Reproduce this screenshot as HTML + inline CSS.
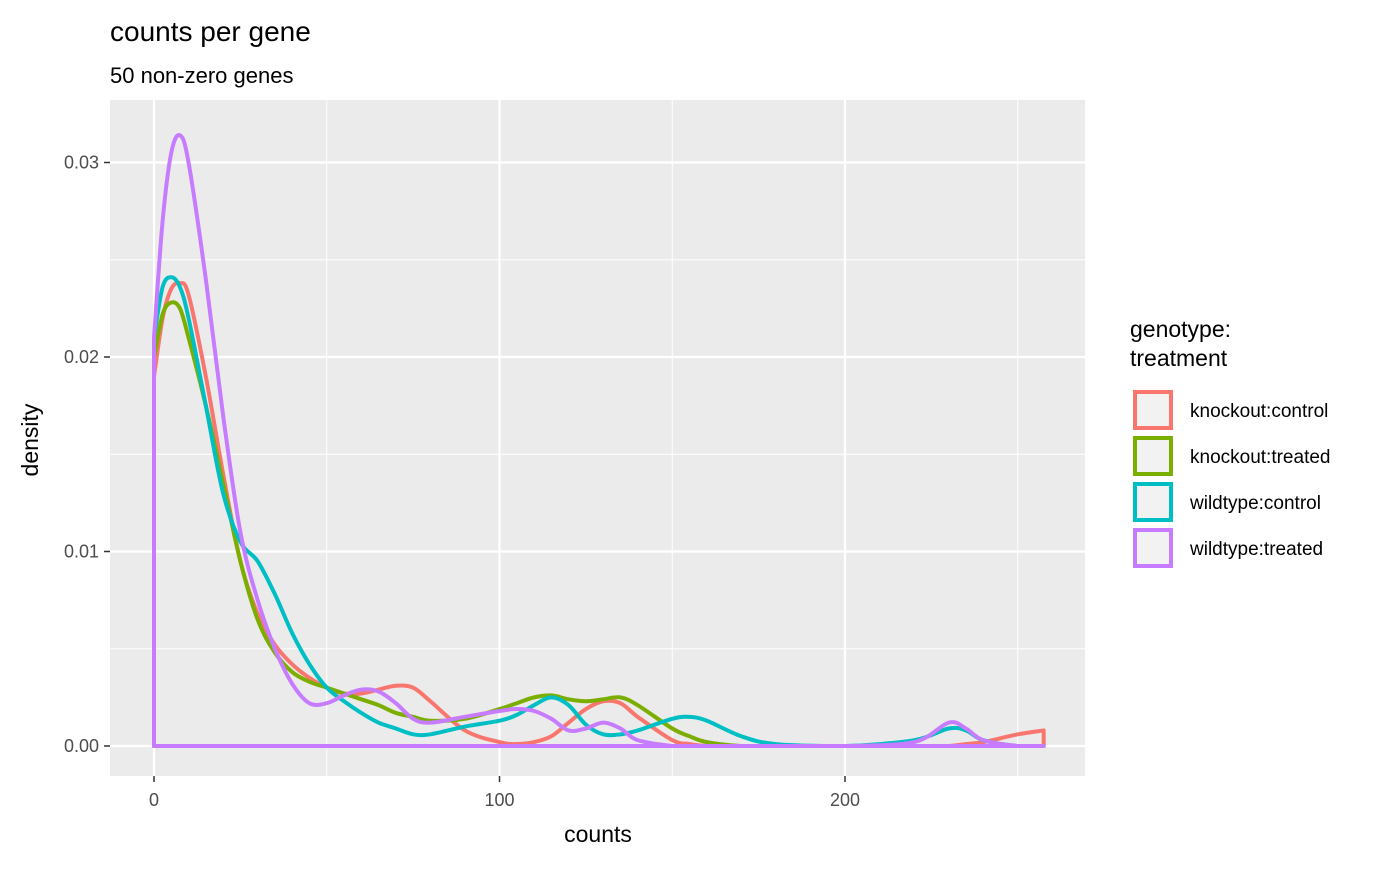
<!DOCTYPE html>
<html><head><meta charset="utf-8"><style>
body{margin:0;background:#fff;font-family:"Liberation Sans",sans-serif}
</style></head><body>
<svg id="chart" width="1400" height="866" xmlns="http://www.w3.org/2000/svg" font-family="Liberation Sans, sans-serif">
<text x="110" y="41" font-size="28" fill="#000">counts per gene</text>
<text x="110" y="83" font-size="22" fill="#000">50 non-zero genes</text>
<rect x="110" y="100" width="975" height="676" fill="#ebebeb"/>
<g id="grid"></g>
<g id="series"></g>
<g id="axes"></g>
<text x="598" y="842" font-size="23" text-anchor="middle">counts</text>
<text transform="translate(38,440) rotate(-90)" font-size="23" text-anchor="middle">density</text>
<g>
<text x="1130" y="337" font-size="23">genotype:</text>
<text x="1130" y="366" font-size="23">treatment</text>
<g id="legend"></g>
</g>
</svg>
<script>
const xGrid=[0,2.5,5,7.5,10,15,20,25,30,35,40,45,50,55,60,65,70,75,80,90,100,105,110,115,120,125,130,135,140,150,155,160,170,180,200,220,230,235,240,250,257.5];
const seriesNames=["knockout:control","knockout:treated","wildtype:control","wildtype:treated"];
const kcVals=[.019,.022,.0235,.0238,.0232,.019,.014,.0095,.0068,.0052,.0042,.0035,.003,.0027,.0027,.0029,.0031,.003,.0023,.0008,.0002,.0001,.0002,.0005,.0012,.0019,.0023,.0022,.0015,.0003,.0001,0,0,0,0,0,0,.0001,.0002,.0006,.0008];
const ktVals=[.02,.0222,.0228,.0225,.021,.0175,.0135,.0095,.0065,.0048,.0038,.0033,.003,.0027,.0024,.0021,.0017,.0015,.0013,.0014,.0019,.0022,.0025,.0026,.0024,.0023,.0024,.0025,.0021,.0009,.0005,.0002,0,0,0,0,0,0,0,0,0];
const wcVals=[.021,.0236,.0241,.0236,.022,.0175,.013,.0105,.0095,.0078,.0058,.0042,.003,.0023,.0017,.0012,.0009,.0006,.0006,.001,.0013,.0016,.0021,.0025,.0021,.0011,.0006,.0006,.0008,.0014,.0015,.0013,.0005,.0001,0,.0003,.0009,.0008,.0003,0,0];
const wtVals=[.021,.027,.0305,.0314,.030,.024,.017,.011,.0075,.005,.0032,.0022,.0022,.0026,.0029,.0028,.0022,.0014,.0012,.0015,.0018,.0019,.0018,.0014,.0008,.0009,.0012,.0009,.0003,0,0,0,0,0,0,.0002,.0012,.0009,.0003,0,0];
const colors=["#F8766D","#7CAE00","#00BFC4","#C77CFF"];
const xTicks=[0,100,200];
const xMinor=[50,150,250];
const yTicks=[0,0.01,0.02,0.03];
const yTickLabels=["0.00","0.01","0.02","0.03"];
const yMinor=[0.005,0.015,0.025];

const X=v=>154+v*3.455;
const Y=v=>746-v*19450;
const NS="http://www.w3.org/2000/svg";
function mk(tag,attrs,parent){const e=document.createElementNS(NS,tag);for(const k in attrs)e.setAttribute(k,attrs[k]);parent.appendChild(e);return e;}
const grid=document.getElementById('grid'),axes=document.getElementById('axes'),ser=document.getElementById('series'),leg=document.getElementById('legend');
xMinor.forEach(v=>{const l=mk('line',{x1:X(v),x2:X(v),y1:100,y2:776,stroke:'#fff','stroke-width':1},grid);

});
yMinor.forEach(v=>{const l=mk('line',{x1:110,x2:1085,y1:Y(v),y2:Y(v),stroke:'#fff','stroke-width':1},grid);

});
xTicks.forEach(v=>{const l=mk('line',{x1:X(v),x2:X(v),y1:100,y2:776,stroke:'#fff','stroke-width':2.2},grid);


const t=mk('line',{x1:X(v),x2:X(v),y1:776,y2:782,stroke:'#333','stroke-width':1.5},axes);


const tx=mk('text',{x:X(v),y:806,'font-size':18,fill:'#4d4d4d','text-anchor':'middle'},axes);tx.textContent=v;

});
yTicks.forEach((v,i)=>{const l=mk('line',{x1:110,x2:1085,y1:Y(v),y2:Y(v),stroke:'#fff','stroke-width':2.2},grid);


const t=mk('line',{x1:104,x2:110,y1:Y(v),y2:Y(v),stroke:'#333','stroke-width':1.5},axes);


const tx=mk('text',{x:99,y:Y(v)+6,'font-size':18,fill:'#4d4d4d','text-anchor':'end'},axes);tx.textContent=yTickLabels[i];

});
function smooth(pts){let d=`M${pts[0][0]},${pts[0][1]}`;for(let i=0;i<pts.length-1;i++){const p0=pts[Math.max(0,i-1)],p1=pts[i],p2=pts[i+1],p3=pts[Math.min(pts.length-1,i+2)];
const c1=[p1[0]+(p2[0]-p0[0])/6,p1[1]+(p2[1]-p0[1])/6],c2=[p2[0]-(p3[0]-p1[0])/6,p2[1]-(p3[1]-p1[1])/6];
d+=` C${c1[0]},${Math.min(c1[1],746)} ${c2[0]},${Math.min(c2[1],746)} ${p2[0]},${p2[1]}`;}return d;}
const allVals=[kcVals,ktVals,wcVals,wtVals];
allVals.forEach((vals,s)=>{const pts=xGrid.map((x,i)=>[X(x),Y(vals[i])]);
let d=`M${X(xGrid[0])},${Y(0)} L`+smooth(pts).slice(1)+` L${X(xGrid[xGrid.length-1])},${Y(0)} Z`;
const p=mk('path',{d:d,fill:'none',stroke:colors[s],'stroke-width':4,'stroke-linejoin':'round'},ser);


const y0=392+s*46;
const r=mk('rect',{x:1135,y:y0,width:36,height:36,fill:'#f2f2f2',stroke:colors[s],'stroke-width':4},leg);


const t=mk('text',{x:1190,y:y0+25,'font-size':19},leg);t.textContent=seriesNames[s];

});
</script>
</body></html>
